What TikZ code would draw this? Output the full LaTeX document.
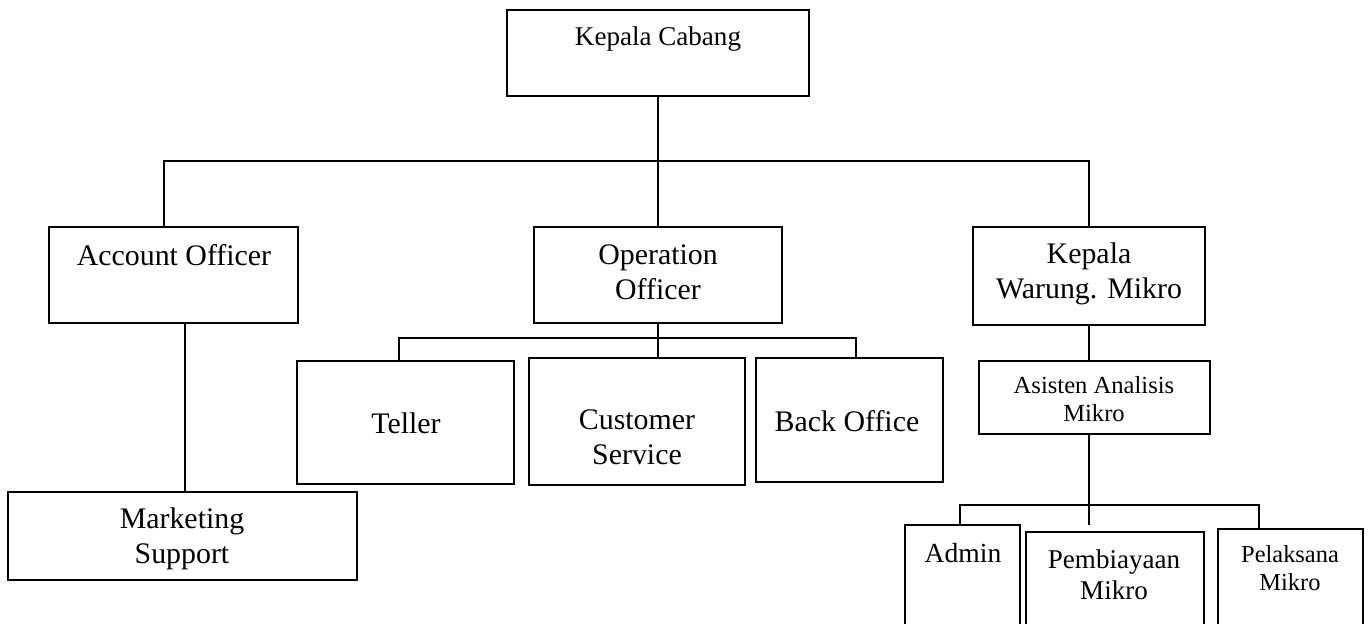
\documentclass[tikz,border=0pt]{standalone}
\usepackage{fontspec}
\setmainfont{Liberation Serif}
\usetikzlibrary{fit}
\begin{document}
\begin{tikzpicture}[x=0.02cm, y=-0.02cm,
    box/.style={draw, line width=1.1pt, inner sep=0pt},
    big/.style={font=\fontsize{17}{19.8}\selectfont, align=center, inner sep=0pt},
    mid/.style={font=\fontsize{15.4}{17.6}\selectfont, align=center, inner sep=0pt},
    small/.style={font=\fontsize{14}{16.2}\selectfont, align=center, inner sep=0pt},
    link/.style={line width=1.1pt}]
    % Rahmen
    \useasboundingbox (0,0) rectangle (1371,623);
    \clip (0,0) rectangle (1371,623);

    % Kepala Cabang
    \node[box, fit={(507,10) (809,96)}] (kc) {};
    \node[mid, anchor=base] (kct) at (658,45) {Kepala Cabang};

    % Ebene 2
    \node[box, fit={(49,227) (298,323)}] (ao) {};
    \node[big, anchor=base] (aot) at (174,265) {Account Officer};
    \node[box, fit={(534,227) (782,323)}] (oo) {};
    \node[big] (oot) at (658,272) {Operation\\Officer};
    \node[box, fit={(973,227) (1205,325)}] (kwm) {};
    \node[big] (kwmt) at (1089,274) {Kepala\\Warung. Mikro};

    % unter Operation Officer
    \node[box, fit={(297,361) (514,484)}] (te) {};
    \node[big, anchor=base] (tet) at (406,433) {Teller};
    \node[box, fit={(529,358) (745,485)}] (cs) {};
    \node[big] (cst) at (637,437) {Customer\\Service};
    \node[box, fit={(756,358) (943,482)}] (bo) {};
    \node[big, anchor=base] (bot) at (847,431) {Back Office};

    % unter Account Officer
    \node[box, fit={(8,492) (357,580)}] (ms) {};
    \node[big] (mst) at (182,539) {Marketing\\Support};

    % unter Kepala Warung
    \node[box, fit={(979,361) (1210,434)}] (aam) {};
    \node[small] (aamt) at (1094,399) {Asisten Analisis\\Mikro};
    \node[box, fit={(905,525) (1020,660)}] (ad) {};
    \node[mid, font=\fontsize{15.7}{18}\selectfont, anchor=base] (adt) at (963,562) {Admin};
    \node[box, fit={(1026,532) (1204,660)}] (pb) {};
    \node[mid] (pbt) at (1114,575) {Pembiayaan\\Mikro};
    \node[box, fit={(1218,529) (1363,660)}] (pm) {};
    \node[small, font=\fontsize{13.9}{15.9}\selectfont] (pmt) at (1290,568) {Pelaksana\\Mikro};

    % Verbindungen
    \coordinate (bus1l) at (164,161);
    \coordinate (bus1r) at (1089,161);
    \coordinate (bus2l) at (399,338);
    \coordinate (bus2r) at (856,338);
    \coordinate (bus3l) at (960,505);
    \coordinate (bus3r) at (1259,505);
    \coordinate (aoms) at (185,400);
    \coordinate (aamend) at (1089,525);
    \draw[link] (kc.south) -- (oo.north);
    \draw[link] (ao.north -| bus1l) |- (bus1r) -- (bus1r |- kwm.north);
    \draw[link] (ao.south -| aoms) -- (ms.north -| aoms);
    \draw[link] (oo.south) -- (oo.south |- cs.north);
    \draw[link] (te.north -| bus2l) |- (bus2r) -- (bus2r |- bo.north);
    \draw[link] (kwm.south -| bus1r) -- (aam.north -| bus1r);
    \draw[link] (aam.south -| aamend) -- (aamend);
    \draw[link] (ad.north -| bus3l) |- (bus3r) -- (bus3r |- pm.north);
\end{tikzpicture}
\end{document}
